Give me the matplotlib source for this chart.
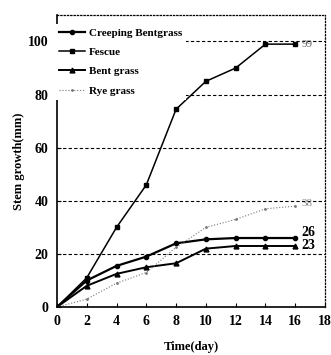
import matplotlib
matplotlib.use("Agg")
import matplotlib.pyplot as plt

days = [0, 2, 4, 6, 8, 10, 12, 14, 16]
creeping = [0, 10, 15.5, 19, 24, 25.5, 26, 26, 26]
fescue = [0, 11, 30, 46, 74.5, 85, 90, 99, 99]
bent = [0, 8, 12.5, 15, 16.5, 22, 23, 23, 23]
rye = [0, 3, 9, 13, 22.5, 30, 33, 37, 38]

xticks = [0, 2, 4, 6, 8, 10, 12, 14, 16, 18]
yticks = [0, 20, 40, 60, 80, 100]

plt.rcParams['font.family'] = ['Liberation Serif', 'DejaVu Serif']
plt.rcParams['font.weight'] = 'bold'

fig = plt.figure(figsize=(3.31, 3.55), dpi=100)
ax = fig.add_axes([0.172, 0.135, 0.81, 0.823])

ax.plot(days, creeping, color='black', lw=1.6, marker='o', ms=3, label='Creeping Bentgrass')
ax.plot(days, fescue, color='black', lw=1.1, marker='s', ms=3.5, label='Fescue')
ax.plot(days, bent, color='black', lw=1.4, marker='^', ms=3.5, label='Bent grass')
ax.plot(days, rye, color='#777777', lw=0.8, ls=':', marker='.', ms=2, label='Rye grass')

ax.text(16.4, 99, '99', color='#666666', fontsize=8, va='center', weight='normal')
ax.text(16.4, 28, '26', color='black', fontsize=10, va='center')
ax.text(16.4, 23, '23', color='black', fontsize=10, va='center')
ax.text(16.4, 39, '38', color='#888888', fontsize=8, va='center', weight='normal')

ax.set_xlim(0, 18)
ax.set_ylim(0, 110)
ax.set_xticks(xticks)
ax.set_yticks(yticks)
ax.tick_params(direction='in', length=3, labelsize=10, pad=6)
for lab in ax.get_xticklabels() + ax.get_yticklabels():
    lab.set_fontweight('bold')

ax.yaxis.grid(True, ls=(0, (3, 2)), color='black', lw=0.8)
ax.set_axisbelow(True)
for s in ['top', 'right']:
    ax.spines[s].set_linestyle(':')
    ax.spines[s].set_linewidth(0.9)
ax.spines['left'].set_linewidth(1.2)
ax.spines['bottom'].set_linewidth(1.2)

ax.set_xlabel('Time(day)', fontsize=9, fontweight='bold', labelpad=9)
ax.set_ylabel('Stem growth(mm)', fontsize=9, fontweight='bold', labelpad=2)

leg = ax.legend(loc='upper left', bbox_to_anchor=(-0.01, 0.97), fontsize=8,
                frameon=True, fancybox=False, handlelength=2.4, handletextpad=0.3,
                borderpad=0.4, labelspacing=0.85, borderaxespad=0)
leg.get_frame().set_facecolor('white')
leg.get_frame().set_edgecolor('none')
leg.get_frame().set_alpha(1)
for t in leg.get_texts():
    t.set_fontweight('bold')

fig.savefig('out.png', dpi=100)
